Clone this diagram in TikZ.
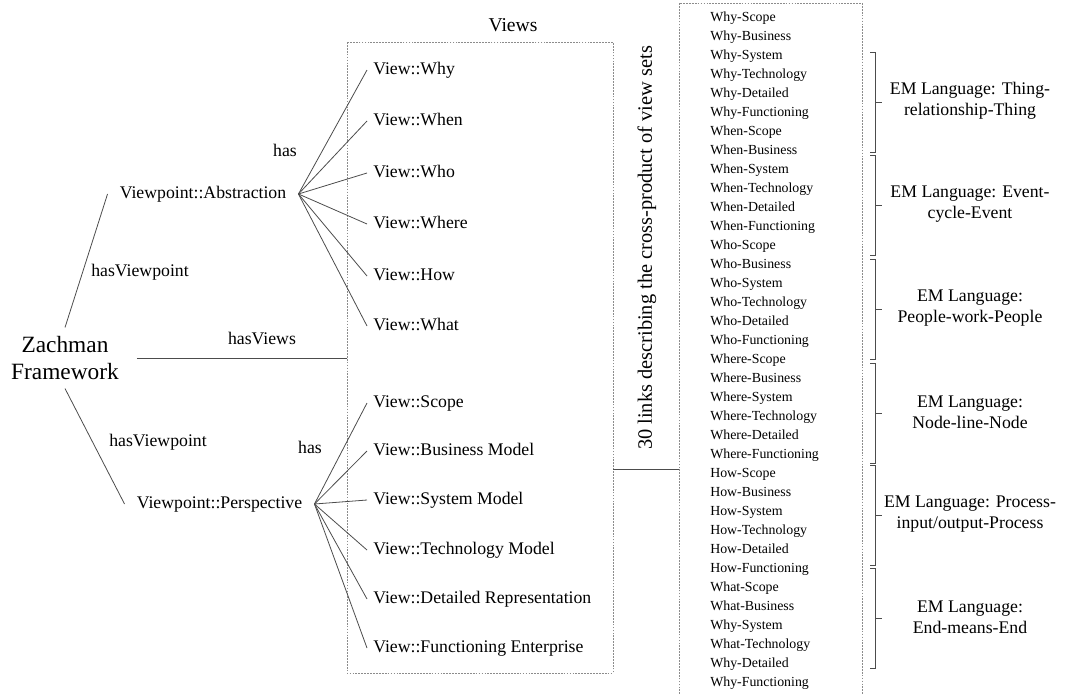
\documentclass[tikz,border=0pt]{standalone}
\usepackage{fontspec}
\setmainfont{Liberation Serif}
\begin{document}
\begin{tikzpicture}[x=0.75pt,y=-0.75pt,
  link/.style={draw=black!70,line width=0.6pt},
  boxline/.style={draw=black!45,line width=0.7pt,dash pattern=on 1.3pt off 0.9pt},
  lbl/.style={inner sep=0pt,font=\fontsize{13.3}{16}\selectfont},
  vp/.style={inner ysep=2pt,inner xsep=9pt,text height=9.5pt,text depth=3pt,font=\fontsize{13.3}{16}\selectfont},
  viewlbl/.style={anchor=west,inner ysep=1pt,inner xsep=4.5pt,text height=9.5pt,text depth=3pt,font=\fontsize{13.3}{16}\selectfont},
  item/.style={anchor=base west,inner sep=0pt,font=\fontsize{10.4}{12}\selectfont},
  emlbl/.style={align=center,inner sep=0pt,font=\fontsize{13.3}{15.75}\selectfont},
  brk/.style={draw=black!70,line width=0.6pt}]
\path[use as bounding box] (0,0) rectangle (1074,693);

% root concept
\node[align=center,inner sep=6.4pt,font=\fontsize{17.5}{20.25}\selectfont] (zach) at (65,358) {Zachman\\Framework};

% viewpoints
\node[vp] (abs) at (203,194) {Viewpoint::Abstraction};
\node[vp] (per) at (219.5,504) {Viewpoint::Perspective};

\draw[link] (zach.north) -- (abs.west);
\draw[link] (zach.south) -- (per.west);
\node[lbl] (hv1) at (140,272) {hasViewpoint};
\node[lbl] (hv2) at (158,442) {hasViewpoint};

% views box
\coordinate (vbNW) at (347,42);
\coordinate (vbSE) at (613,673);
\draw[boxline] (vbNW) rectangle (vbSE);
\node[inner sep=0pt,font=\fontsize{14.7}{17}\selectfont] (vtitle) at (513,25) {Views};

\draw[link] ([xshift=7pt]zach.east) -- (zach.east -| vbNW);
\node[lbl] (hviews) at (262,338) {hasViews};

% abstraction views
\foreach \n/\t/\y in {why/Why/70,when/When/121,who/Who/173,where/Where/224,how/How/276,what/What/326}{
  \node[viewlbl] (\n) at (367,\y) {View::\t};
  \draw[link] (abs.east) -- (\n.west);
}
\node[lbl] (has1) at (285,150) {has};

% perspective views
\foreach \n/\t/\y in {scope/Scope/403,bus/Business Model/451,sys/System Model/500,tech/Technology Model/550,det/Detailed Representation/599,fun/Functioning Enterprise/648}{
  \node[viewlbl] (\n) at (367,\y) {View::\t};
  \draw[link] (per.east) -- (\n.west);
}
\node[lbl] (has2) at (310,447) {has};

% cross-product link
\coordinate (lbNW) at (679,3);
\coordinate (lbNE) at (862,3);
\coordinate (xl) at (613,469);
\draw[link] (xl) -- (xl -| lbNW);
\node[rotate=90,inner sep=0pt,font=\fontsize{15.3}{18}\selectfont] (xlabel) at (647,248) {30 links describing the cross-product of view sets};

% list of view pairs
\draw[boxline] (679,700) -- (lbNW) -- (lbNE) -- (862,700);
\foreach \t [count=\i from 0] in {Why-Scope,Why-Business,Why-System,Why-Technology,Why-Detailed,Why-Functioning,
  When-Scope,When-Business,When-System,When-Technology,When-Detailed,When-Functioning,
  Who-Scope,Who-Business,Who-System,Who-Technology,Who-Detailed,Who-Functioning,
  Where-Scope,Where-Business,Where-System,Where-Technology,Where-Detailed,Where-Functioning,
  How-Scope,How-Business,How-System,How-Technology,How-Detailed,How-Functioning,
  What-Scope,What-Business,Why-System,What-Technology,Why-Detailed,Why-Functioning}{
  \node[item] (it\i) at (710,{21+19.02*\i}) {\t};
}

% brackets with EM language labels
\foreach \top/\txt [count=\k] in {52/{EM Language: Thing-\\relationship-Thing},
  155/{EM Language: Event-\\cycle-Event},
  259/{EM Language:\\People-work-People},
  363/{EM Language:\\Node-line-Node},
  465/{EM Language: Process-\\input/output-Process},
  568/{EM Language:\\End-means-End}}{
  \draw[brk] (870,\top) -- (875,\top) -- (875,\top+100) -- (870,\top+100);
  \draw[brk] (875,\top+50) -- (882,\top+50);
  \node[emlbl] (em\k) at (970,\top+49) {\txt};
}
\end{tikzpicture}
\end{document}
